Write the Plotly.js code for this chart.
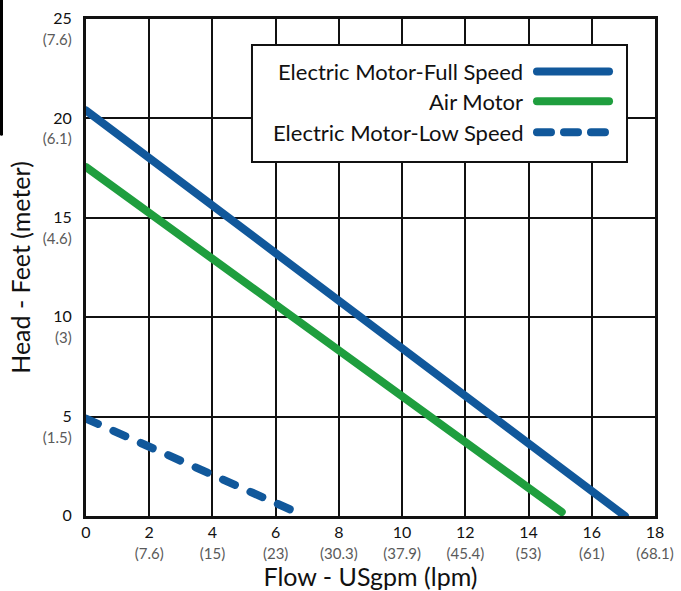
<!DOCTYPE html>
<html>
<head>
<meta charset="utf-8">
<script src="https://cdn.plot.ly/plotly-3.0.1.min.js"></script>
<style>
  html, body { margin: 0; padding: 0; background: #fff; }
  #chart { width: 681px; height: 591px; }
  .scatterlayer .js-line, .shapelayer path { stroke-linecap: round; }
</style>
</head>
<body>
<div id="chart"></div>
<script>
// Data
const seriesNames = ['Electric Motor-Full Speed', 'Air Motor', 'Electric Motor-Low Speed'];
const fullX = [0, 17.05];
const fullY = [20.4, 0.0];
const airX = [0, 15.05];
const airY = [17.55, 0.2];
const lowX = [0, 6.5];
const lowY = [4.9, 0.3];

const xTickVals = [0, 2, 4, 6, 8, 10, 12, 14, 16, 18];
const xTickMetric = ['', '(7.6)', '(15)', '(23)', '(30.3)', '(37.9)', '(45.4)', '(53)', '(61)', '(68.1)'];
const yTickVals = [0, 5, 10, 15, 20, 25];
const yTickMetric = ['', '(1.5)', '(3)', '(4.6)', '(6.1)', '(7.6)'];

const BLUE = '#11589b';
const GREEN = '#1f9e3e';
const FONT = 'Lato, "Open Sans", sans-serif';

function tickText(vals, metric) {
  return vals.map((v, i) => metric[i]
    ? v + '<br><span style="font-size:15px;color:#5a5a5a">' + metric[i] + '</span>'
    : v + '<br>\u00a0');
}

const traces = [
  { x: fullX, y: fullY, mode: 'lines', name: seriesNames[0], line: { color: BLUE, width: 8 } },
  { x: airX, y: airY, mode: 'lines', name: seriesNames[1], line: { color: GREEN, width: 8 } },
  { x: lowX, y: lowY, mode: 'lines', name: seriesNames[2], line: { color: BLUE, width: 8, dash: '13px,17px' } }
];

// Manual legend (symbols on the right of the text, as in the reference)
const legRows = [0.8946, 0.8343, 0.7719];
const legDash = ['solid', 'solid', '14px,13px'];
const legColor = [BLUE, GREEN, BLUE];
const shapes = [
  { type: 'rect', xref: 'paper', yref: 'paper', x0: 0.2917, x1: 0.9508, y0: 0.7123, y1: 0.9477,
    fillcolor: '#fff', line: { color: '#111', width: 2 }, layer: 'above' },
  { type: 'line', xref: 'paper', yref: 'paper', x0: -0.1485, x1: -0.1485, y0: 0.768, y1: 1.04,
    line: { color: '#000', width: 3 } }
];
const annotations = [];
seriesNames.forEach((n, i) => {
  shapes.push({ type: 'line', xref: 'paper', yref: 'paper', x0: 0.7926, x1: 0.9192,
    y0: legRows[i], y1: legRows[i], layer: 'above',
    line: { color: legColor[i], width: 8, dash: legDash[i] } });
  annotations.push({ xref: 'paper', yref: 'paper', x: 0.7715, y: legRows[i],
    xanchor: 'right', yanchor: 'middle', showarrow: false, text: n,
    font: { family: FONT, size: 22, color: '#111' } });
});

const layout = {
  width: 681, height: 591,
  margin: { l: 86, r: 26, t: 19, b: 75 },
  paper_bgcolor: '#fff', plot_bgcolor: '#fff',
  showlegend: false,
  font: { family: FONT, color: '#111' },
  xaxis: {
    range: [0, 18], tickvals: xTickVals, ticktext: tickText(xTickVals, xTickMetric),
    showgrid: true, gridcolor: '#111', gridwidth: 2, zeroline: false,
    showline: true, linecolor: '#111', linewidth: 3, mirror: true,
    ticks: '', ticklabelstandoff: 0,
    tickfont: { family: FONT, size: 16, color: '#111' },
    title: { text: 'Flow - USgpm (lpm)', font: { family: FONT, size: 25, color: '#111' }, standoff: 4 }
  },
  yaxis: {
    range: [0, 25], tickvals: yTickVals, ticktext: tickText(yTickVals, yTickMetric),
    showgrid: true, gridcolor: '#111', gridwidth: 2, zeroline: false,
    showline: true, linecolor: '#111', linewidth: 3, mirror: true,
    ticks: '', ticklabelstandoff: 8, ticklabelshift: 10,
    tickfont: { family: FONT, size: 16, color: '#111' },
    title: { text: 'Head - Feet (meter)', font: { family: FONT, size: 25, color: '#111' }, standoff: 6 }
  },
  shapes: shapes,
  annotations: annotations
};

Plotly.newPlot('chart', traces, layout, { displayModeBar: false, staticPlot: true });
</script>
</body>
</html>
